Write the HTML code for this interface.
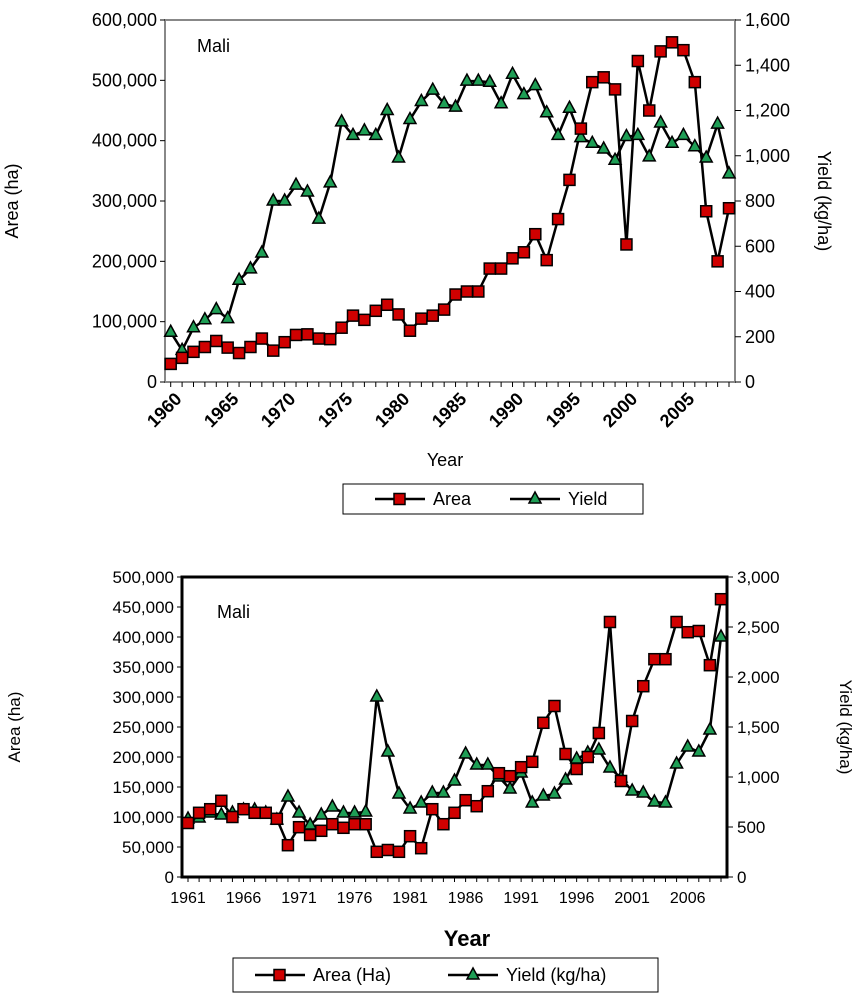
<!DOCTYPE html>
<html><head><meta charset="utf-8"><style>
body{margin:0;background:#fff;font-family:"Liberation Sans",sans-serif}
svg text{font-family:"Liberation Sans",sans-serif}
</style></head><body>
<svg id="c" width="868" height="1000"></svg>
<script>
const years1 = [];
for (let y = 1960; y <= 2009; y++) years1.push(y);
const area1 = [30000,40000,50000,58000,68000,57000,48000,58000,72000,52000,66000,78000,79000,72000,71000,90000,110000,103000,118000,128000,112000,85000,105000,110000,120000,145000,150000,150000,188000,188000,205000,215000,245000,202000,270000,335000,420000,497000,505000,485000,228000,532000,450000,548000,563000,550000,497000,283000,200000,288000];
const yield1 = [220,140,240,275,320,280,450,500,570,800,800,870,840,720,880,1150,1090,1110,1090,1200,990,1160,1240,1290,1230,1215,1330,1330,1325,1230,1360,1270,1310,1190,1090,1210,1080,1055,1030,980,1085,1090,995,1145,1055,1090,1040,990,1140,920];
const leftTicks1 = [0,100000,200000,300000,400000,500000,600000];
const rightTicks1 = [0,200,400,600,800,1000,1200,1400,1600];
const xLabels1 = [1960,1965,1970,1975,1980,1985,1990,1995,2000,2005];

const years2 = [];
for (let y = 1961; y <= 2009; y++) years2.push(y);
const area2 = [90000,107000,113000,127000,100000,113000,107000,107000,97000,53000,83000,70000,77000,88000,82000,88000,88000,42000,45000,42000,68000,48000,113000,88000,107000,128000,118000,143000,173000,168000,183000,192000,257000,285000,205000,180000,200000,240000,425000,160000,260000,318000,363000,363000,425000,408000,410000,353000,463000];
const yield2 = [580,590,640,620,640,670,670,640,570,800,640,520,620,700,640,640,650,1800,1250,830,680,740,840,840,960,1230,1120,1120,1000,880,1040,740,810,830,970,1180,1240,1270,1090,990,860,840,750,740,1130,1300,1250,1470,2400];
const leftTicks2 = [0,50000,100000,150000,200000,250000,300000,350000,400000,450000,500000];
const rightTicks2 = [0,500,1000,1500,2000,2500,3000];
const xLabels2 = [1961,1966,1971,1976,1981,1986,1991,1996,2001,2006];

const svg = document.getElementById('c');
const NS = 'http://www.w3.org/2000/svg';
function mk(tag, attrs, parent){const e=document.createElementNS(NS,tag);for(const k in attrs)e.setAttribute(k,attrs[k]);(parent||svg).appendChild(e);return e;}
const fmt = v => v.toLocaleString('en-US');

function chart(cfg){
  const g = mk('g',{});
  
  
  const {L,R,T,B,lmax,rmax} = cfg;
  const xs = yr => cfg.x0 + (yr - cfg.years[0]) * (cfg.x1 - cfg.x0) / (cfg.years[cfg.years.length-1] - cfg.years[0]);
  const yl = v => B - v / lmax * (B - T);
  const yr = v => B - v / rmax * (B - T);
  const frame = mk('rect',{x:L,y:T,width:R-L,height:B-T,fill:'none',stroke:cfg.frameColor,'stroke-width':cfg.frameW},g);
  
  
  cfg.lt.forEach(v=>{
    mk('line',{x1:L-5,y1:yl(v),x2:L,y2:yl(v),stroke:'#000'},g);
    const t=mk('text',{x:L-8,y:yl(v)+6,'text-anchor':'end','font-size':cfg.fs},g);t.textContent=fmt(v);
    
    
  });
  cfg.rt.forEach(v=>{
    mk('line',{x1:R,y1:yr(v),x2:R+6,y2:yr(v),stroke:'#000'},g);
    const t=mk('text',{x:R+10,y:yr(v)+6,'font-size':cfg.fs},g);t.textContent=fmt(v);
    
    
  });
  cfg.years.forEach(y=>mk('line',{x1:xs(y),y1:B,x2:xs(y),y2:B+5,stroke:'#000'},g));
  cfg.xl.forEach(y=>{
    let t;
    if(cfg.rot){t=mk('text',{x:xs(y)+12,y:B+18,'text-anchor':'end','font-size':18,'font-weight':'bold',transform:`rotate(-45 ${xs(y)+12} ${B+18})`},g);}
    else t=mk('text',{x:xs(y),y:B+26,'text-anchor':'middle','font-size':16},g);
    t.textContent=y;
    
    
  });
  const pa = cfg.area.map((v,i)=>xs(cfg.years[i])+','+yl(v)).join(' ');
  const py = cfg.yld.map((v,i)=>xs(cfg.years[i])+','+yr(v)).join(' ');
  const l1=mk('polyline',{points:pa,fill:'none',stroke:'#000','stroke-width':2.5},g);
  
  
  const l2=mk('polyline',{points:py,fill:'none',stroke:'#000','stroke-width':2.5},g);
  
  
  cfg.yld.forEach((v,i)=>{
    const x=xs(cfg.years[i]),y=yr(v);
    const p=mk('polygon',{points:`${x},${y-7} ${x-6},${y+4} ${x+6},${y+4}`,fill:'#1e9e55',stroke:'#000','stroke-width':1.5},g);
    
    
  });
  cfg.area.forEach((v,i)=>{
    const x=xs(cfg.years[i]),y=yl(v);
    const p=mk('rect',{x:x-5.5,y:y-5.5,width:11,height:11,fill:'#d00000',stroke:'#000','stroke-width':1.5},g);
    
    
  });
  const m=mk('text',{x:cfg.maliX,y:cfg.maliY,'font-size':18},g);m.textContent='Mali';
  
  
  const a=mk('text',{x:0,y:0,'text-anchor':'middle','font-size':cfg.fs,transform:`translate(${cfg.ylx},${(T+B)/2}) rotate(-90)`},g);a.textContent='Area (ha)';
  
  
  const b=mk('text',{x:0,y:0,'text-anchor':'middle','font-size':cfg.fs,transform:`translate(${cfg.yrx},${(T+B)/2}) rotate(90)`},g);b.textContent='Yield (kg/ha)';
  
  
  const xt=mk('text',{x:cfg.xtX,y:cfg.xtY,'text-anchor':'middle','font-size':cfg.xtFs,'font-weight':cfg.xtW},g);xt.textContent='Year';
  
  
  const lg=mk('g',{},g);
  
  
  const c=cfg.leg;
  mk('rect',{x:c.x,y:c.y,width:c.w,height:c.h,fill:'#fff',stroke:'#000','stroke-width':1},lg);
  const cy=c.y+c.h/2;
  mk('line',{x1:c.a,y1:cy,x2:c.a+50,y2:cy,stroke:'#000','stroke-width':2.5},lg);
  mk('rect',{x:c.a+19,y:cy-5.5,width:11,height:11,fill:'#d00000',stroke:'#000','stroke-width':1.5},lg);
  const t1=mk('text',{x:c.a+58,y:cy+6,'font-size':18},lg);t1.textContent=c.t1;
  
  
  mk('line',{x1:c.b,y1:cy,x2:c.b+50,y2:cy,stroke:'#000','stroke-width':2.5},lg);
  const xm=c.b+25;
  mk('polygon',{points:`${xm},${cy-7} ${xm-6},${cy+4} ${xm+6},${cy+4}`,fill:'#1e9e55',stroke:'#000','stroke-width':1.5},lg);
  const t2=mk('text',{x:c.b+58,y:cy+6,'font-size':18},lg);t2.textContent=c.t2;
  
  
}

chart({name:'top-chart',L:165,R:735,T:20,B:382,lmax:600000,rmax:1600,x0:170.7,x1:729,years:years1,area:area1,yld:yield1,lt:leftTicks1,rt:rightTicks1,xl:xLabels1,rot:true,fs:18,frameColor:'#888',frameW:2,maliX:197,maliY:52,ylx:18,yrx:818,xtX:445,xtY:466,xtFs:18,xtW:'normal',leg:{x:343,y:484,w:300,h:30,a:375,b:510,t1:'Area',t2:'Yield'}});
chart({name:'bottom-chart',L:182,R:727,T:577,B:877,lmax:500000,rmax:3000,x0:188,x1:721,years:years2,area:area2,yld:yield2,lt:leftTicks2,rt:rightTicks2,xl:xLabels2,rot:false,fs:17,frameColor:'#000',frameW:3,maliX:217,maliY:618,ylx:20,yrx:840,xtX:467,xtY:946,xtFs:22,xtW:'bold',leg:{x:233,y:958,w:425,h:34,a:255,b:448,t1:'Area (Ha)',t2:'Yield (kg/ha)'}});
</script>
</body></html>
